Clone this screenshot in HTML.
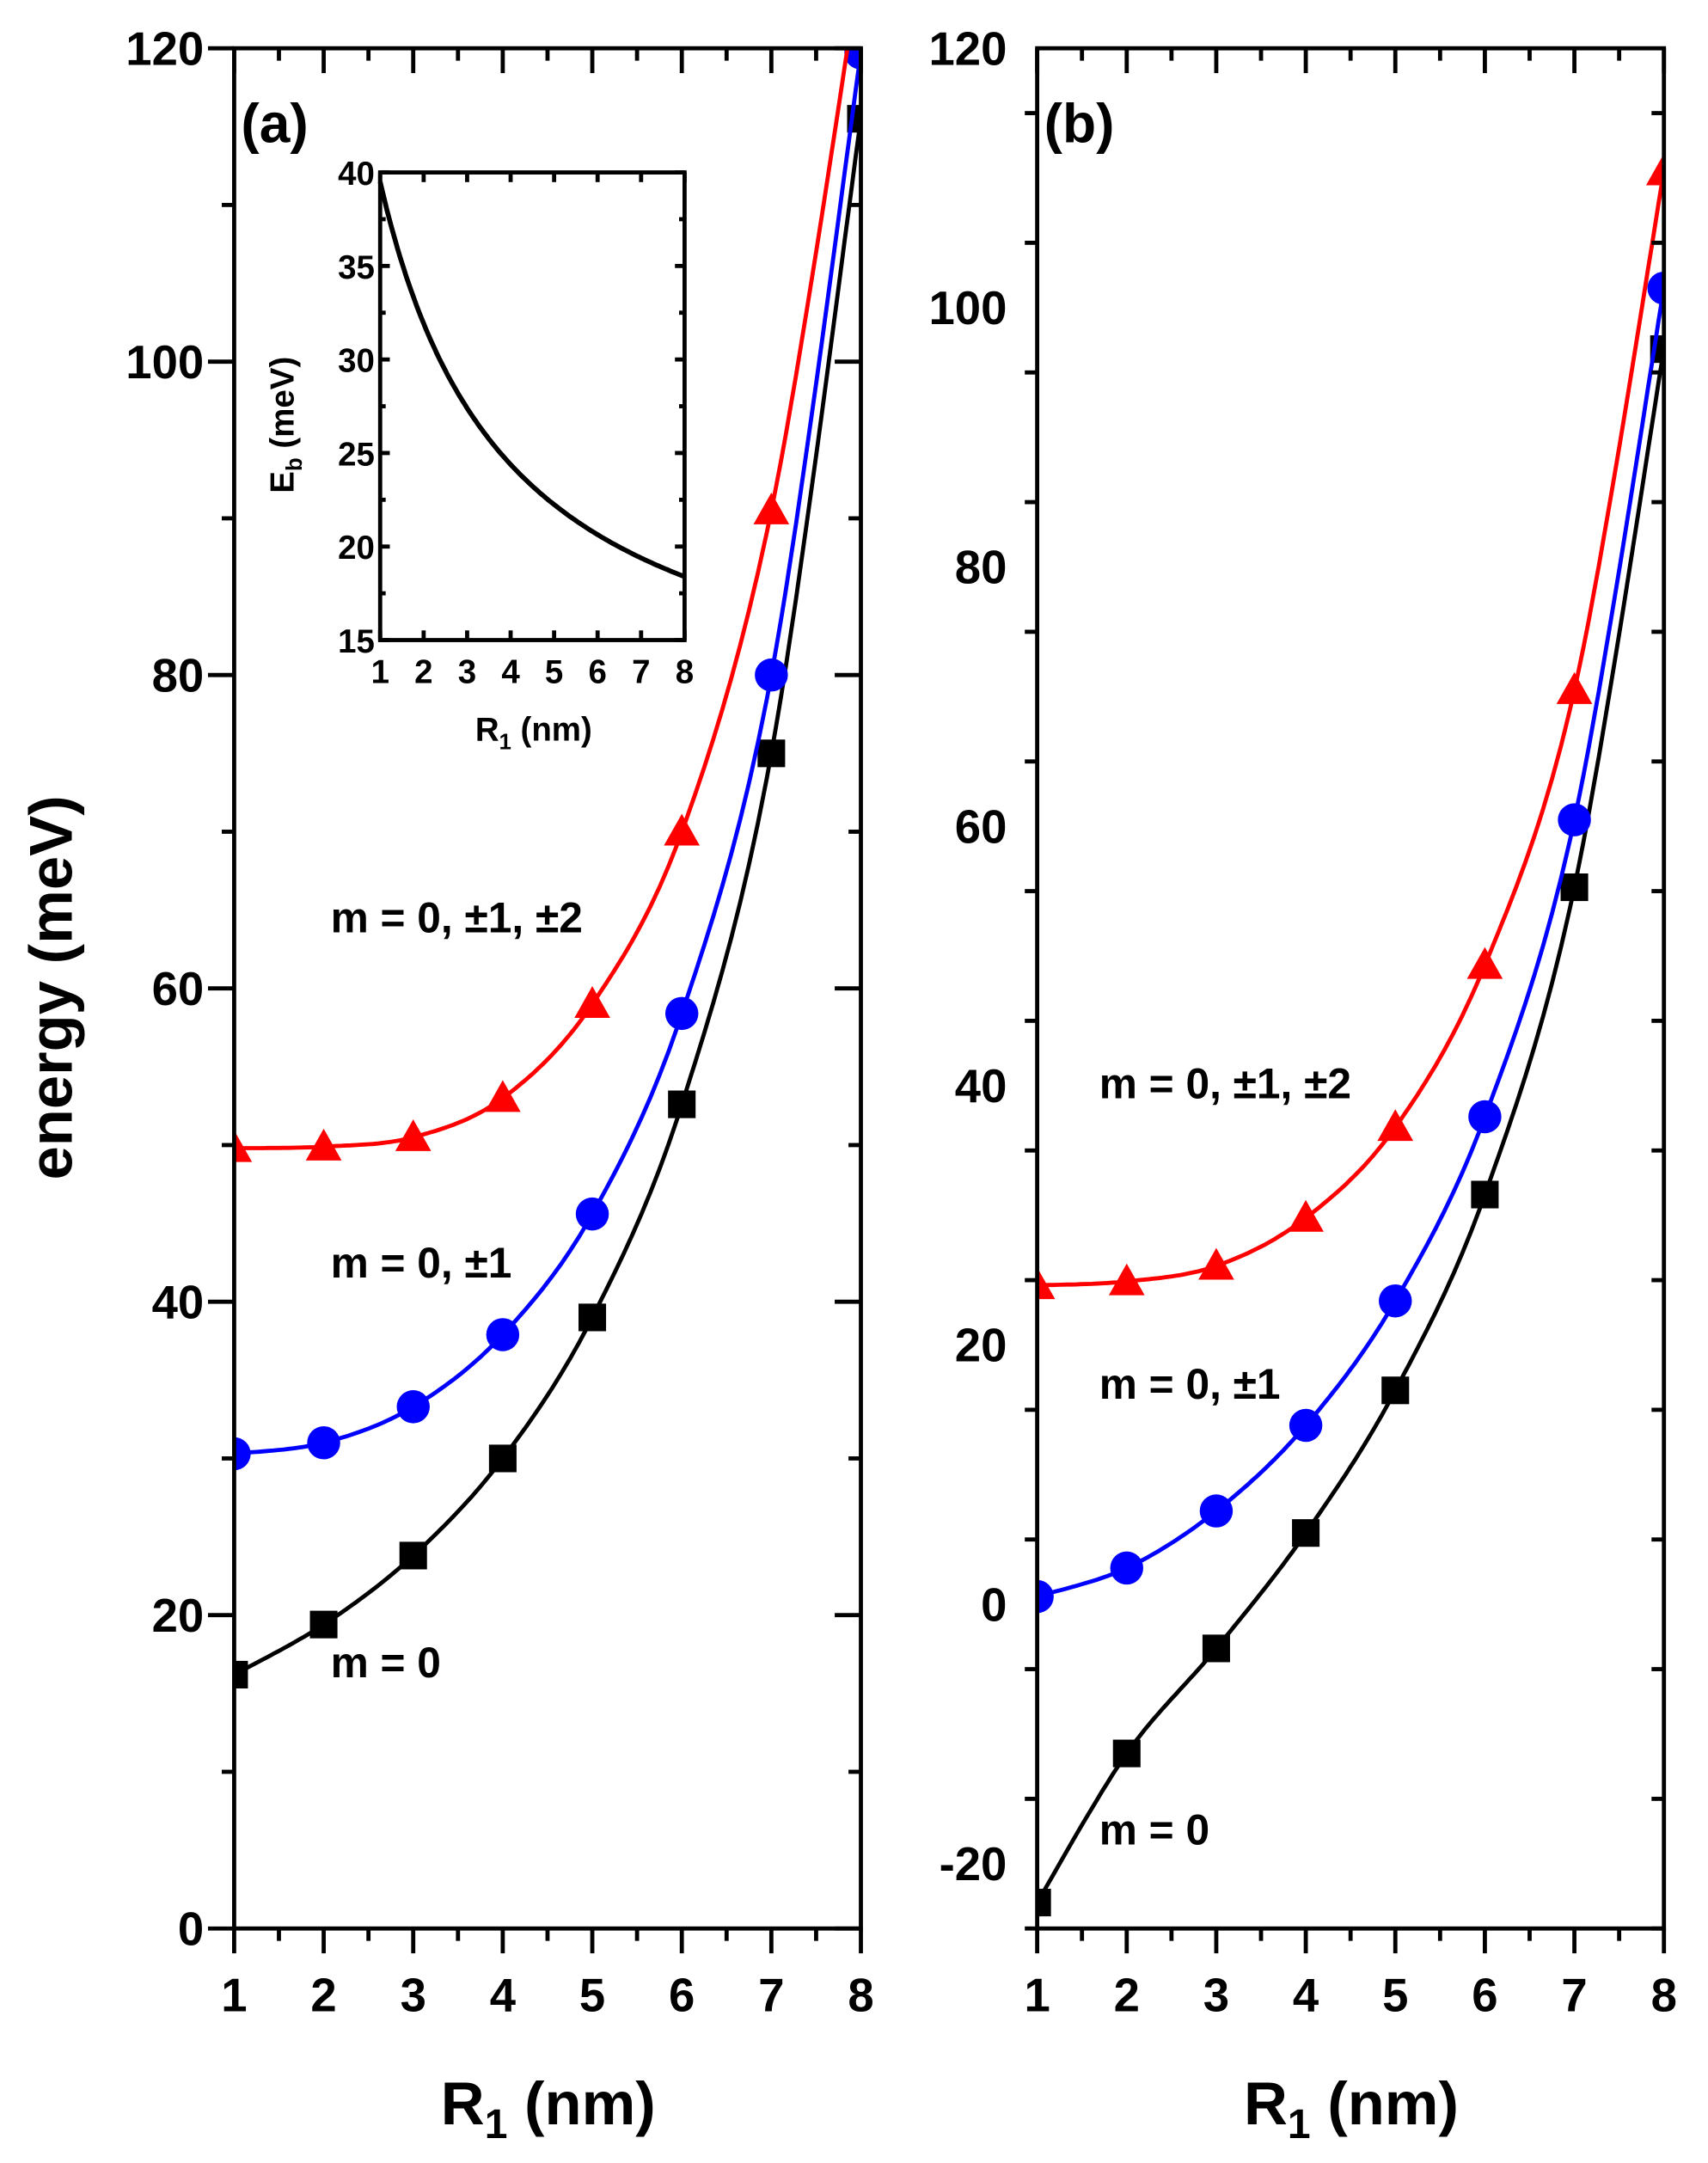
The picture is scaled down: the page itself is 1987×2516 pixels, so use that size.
<!DOCTYPE html>
<html><head><meta charset="utf-8"><style>
html,body{margin:0;padding:0;background:#fff}
svg{display:block}
text{font-family:"Liberation Sans",Arial,sans-serif;font-weight:bold;fill:#000}
</style></head><body>
<svg id="s" width="1987" height="2516" viewBox="0 0 1240 1568" preserveAspectRatio="none" xmlns="http://www.w3.org/2000/svg">
<defs>
<clipPath id="ca"><rect x="170" y="35" width="455" height="1363"/></clipPath>
<clipPath id="cb"><rect x="753" y="35" width="455" height="1363"/></clipPath>
</defs>
<g id="g"></g>
</svg>
<script>
var G=document.getElementById("g"),out="";
function line(x1,y1,x2,y2,w){out+='<line x1="'+x1+'" y1="'+y1+'" x2="'+x2+'" y2="'+y2+'" stroke="#000" stroke-width="'+(w||3)+'"/>';}
function txt(x,y,s,sz,anc,extra){out+='<text x="'+x+'" y="'+y+'" font-size="'+sz+'" text-anchor="'+(anc||"start")+'" '+(extra||"")+'>'+s+'</text>';}
function curve(pts,col,w,clip){
  var d="";var n=pts.length;
  for(var i=0;i<n-1;i++){
    var p0=pts[Math.max(i-1,0)],p1=pts[i],p2=pts[i+1],p3=pts[Math.min(i+2,n-1)];
    for(var k=0;k<=20;k++){var t=k/20,t2=t*t,t3=t2*t;
      var x=0.5*((2*p1[0])+(-p0[0]+p2[0])*t+(2*p0[0]-5*p1[0]+4*p2[0]-p3[0])*t2+(-p0[0]+3*p1[0]-3*p2[0]+p3[0])*t3);
      var y=0.5*((2*p1[1])+(-p0[1]+p2[1])*t+(2*p0[1]-5*p1[1]+4*p2[1]-p3[1])*t2+(-p0[1]+3*p1[1]-3*p2[1]+p3[1])*t3);
      d+=(d?"L":"M")+x.toFixed(1)+","+y.toFixed(1);}
  }
  out+='<path d="'+d+'" fill="none" stroke="'+col+'" stroke-width="'+w+'" '+(clip?'clip-path="url(#'+clip+')"':'')+'/>';
}
function panel(L,R,T,B,vmin,vmax,labels,clip,series){
  var sx=function(x){return L+(x-1)*(R-L)/7},sy=function(v){return B-(v-vmin)*(B-T)/(vmax-vmin)};
  series.forEach(function(s){
    var pts=s.d.map(function(v,i){return [sx(i+1),sy(v)]});
    curve(pts,s.c,3,clip);
    out+='<g clip-path="url(#'+clip+')">';
    pts.forEach(function(p){
      if(s.m=="s")out+='<rect x="'+(p[0]-10)+'" y="'+(p[1]-10)+'" width="20" height="20" fill="'+s.c+'"/>';
      else if(s.m=="c")out+='<circle cx="'+p[0]+'" cy="'+p[1]+'" r="12" fill="'+s.c+'"/>';
      else out+='<polygon points="'+p[0]+','+(p[1]-13)+' '+(p[0]-13)+','+(p[1]+10)+' '+(p[0]+13)+','+(p[1]+10)+'" fill="'+s.c+'"/>';
    });
    out+='</g>';
  });
  out+='<rect x="'+L+'" y="'+T+'" width="'+(R-L)+'" height="'+(B-T)+'" fill="none" stroke="#000" stroke-width="3"/>';
  for(var x=1;x<=8;x+=0.5){var X=sx(x),maj=(x%1==0);
    line(X,B,X,B+(maj?18:9));line(X,T,X,T+(maj?18:9));
    if(maj)txt(X,B+60,x,34,"middle");}
  for(var v=vmin;v<=vmax+0.01;v+=10){var Y=sy(v);if(Y>B+1)continue;var maj=(Math.round(v)%20==0);
    line(L-(maj?19:9),Y,L,Y);line(R-(maj?19:9),Y,R,Y);}
  labels.forEach(function(v){txt(L-22,sy(v)+12,v,34,"end");});
}
panel(170,625,35,1398,0,120,[0,20,40,60,80,100,120],"ca",[
 {c:"#000",m:"s",d:[16.2,19.4,23.8,30.0,39.0,52.6,75.0,115.5]},
 {c:"#0000ff",m:"c",d:[30.3,31.0,33.3,37.9,45.6,58.4,80.0,119.7]},
 {c:"#ff0000",m:"t",d:[49.8,49.9,50.5,53.0,59.0,70.0,90.5,125.5]}
]);
panel(753,1208,35,1398,-25,120,[-20,0,20,40,60,80,100,120],"cb",[
 {c:"#000",m:"s",d:[-23,-11.5,-3.4,5.5,16.5,31.6,55.3,96.8]},
 {c:"#0000ff",m:"c",d:[0.6,2.8,7.2,13.8,23.4,37.6,60.5,101.5]},
 {c:"#ff0000",m:"t",d:[24.6,24.9,26.1,29.8,36.8,49.3,70.5,110.5]}
]);
(function(){var L=276,R=497,T=125,B=464;
 var sx=function(x){return L+(x-1)*(R-L)/7},sy=function(v){return B-(v-15)*(B-T)/25};
 var d="";
 for(var i=0;i<=140;i++){var x=1+i*7/140,v=9.45+89.1/(x+1.965);d+=(d?"L":"M")+sx(x).toFixed(1)+","+sy(v).toFixed(1);}
 out+='<path d="'+d+'" fill="none" stroke="#000" stroke-width="3.5"/>';
 out+='<rect x="'+L+'" y="'+T+'" width="'+(R-L)+'" height="'+(B-T)+'" fill="none" stroke="#000" stroke-width="3"/>';
 for(var x=1;x<=8;x++){var X=sx(x);line(X,T,X,T+7);line(X,B,X,B-7);txt(X,B+31,x,24,"middle");}
 for(var v=15;v<=40;v+=2.5){var Y=sy(v);var maj=(v%5==0);line(L,Y,L+(maj?7:4),Y);line(R,Y,R-(maj?7:4),Y);
  if(maj)txt(L-4,Y+9,v,24,"end");}
 out+='<text x="0" y="0" font-size="24" text-anchor="middle" transform="translate(213 308) rotate(-90)">E<tspan font-size="16" dy="6">b</tspan><tspan dy="-6"> (meV)</tspan></text>';
 out+='<text x="345" y="537" font-size="24">R<tspan font-size="16" dy="6">1</tspan><tspan dy="-6"> (nm)</tspan></text>';
})();
txt(175,103,"(a)",40);txt(758,103,"(b)",40);
txt(240,676,"m = 0, ±1, ±2",31);txt(240,926,"m = 0, ±1",31);txt(240,1216,"m = 0",31);
txt(798,796,"m = 0, ±1, ±2",31);txt(798,1014,"m = 0, ±1",31);txt(798,1337,"m = 0",31);
txt(52,716,"energy (meV)",44,"middle",'transform="rotate(-90 52 716)"');
out+='<text x="398" y="1540" font-size="44" text-anchor="middle">R<tspan font-size="30" dy="10">1</tspan><tspan dy="-10"> (nm)</tspan></text>';
out+='<text x="981" y="1540" font-size="44" text-anchor="middle">R<tspan font-size="30" dy="10">1</tspan><tspan dy="-10"> (nm)</tspan></text>';
G.innerHTML=out;
</script>
</body></html>
